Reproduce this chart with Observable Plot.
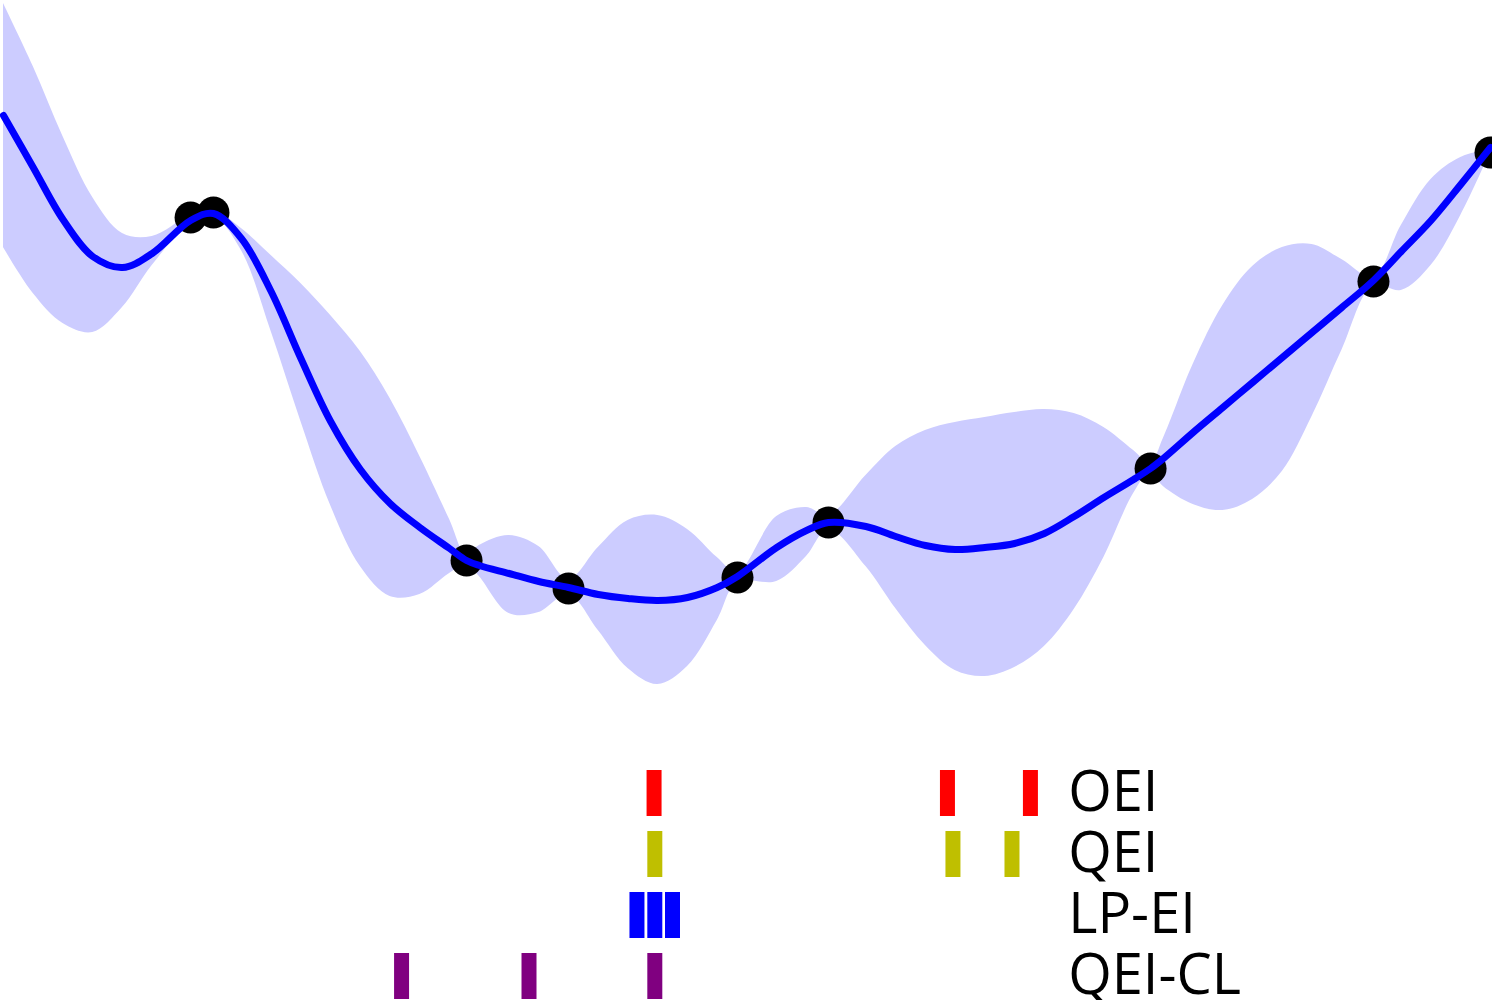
<!DOCTYPE html>
<html>
<head>
<meta charset="utf-8">
<script src="https://cdn.jsdelivr.net/npm/d3@7"></script>
<script src="https://cdn.jsdelivr.net/npm/@observablehq/plot@0.6"></script>
<style>
  html, body { margin: 0; padding: 0; background: white; }
  #chart { width: 1492px; }
</style>
</head>
<body>
<div id="chart"></div>
<script>
// ---- GP posterior (mean and band) sampled along x ----
const xs = [0, 0.2, 0.4, 0.6, 0.8, 1.0, 1.258, 1.412, 1.6, 1.8, 2.0, 2.2, 2.4, 2.6, 2.8, 3.0,
  3.114, 3.2, 3.4, 3.6, 3.8, 4.0, 4.2, 4.4, 4.6, 4.8, 4.936, 5.2, 5.4, 5.548, 5.8, 6.0,
  6.2, 6.4, 6.6, 6.8, 7.0, 7.2, 7.4, 7.6, 7.714, 7.8, 8.0, 8.2, 8.4, 8.6, 8.8, 9.0,
  9.213, 9.4, 9.6, 9.8, 10.0];
const upper = [6.97, 6.34, 5.64, 5.03, 4.67, 4.64, 4.85, 4.90, 4.72, 4.45, 4.17, 3.85, 3.49, 3.02, 2.44, 1.81,
  1.45, 1.55, 1.65, 1.54, 1.21, 1.53, 1.80, 1.85, 1.71, 1.43, 1.28, 1.84, 1.93, 1.85, 2.25, 2.54,
  2.70, 2.78, 2.83, 2.88, 2.91, 2.87, 2.73, 2.50, 2.37, 2.62, 3.36, 3.95, 4.34, 4.53, 4.56, 4.41,
  4.23, 4.75, 5.21, 5.43, 5.51];
const lower = [4.53, 4.07, 3.77, 3.68, 3.93, 4.35, 4.77, 4.84, 4.50, 3.69, 2.79, 1.95, 1.34, 1.04, 1.06, 1.27,
  1.36, 1.24, 0.87, 0.88, 1.06, 0.70, 0.32, 0.16, 0.34, 0.80, 1.18, 1.19, 1.44, 1.71, 1.34, 0.92,
  0.55, 0.30, 0.24, 0.33, 0.54, 0.91, 1.43, 2.07, 2.28, 2.14, 1.96, 1.90, 2.01, 2.29, 2.84, 3.50,
  4.15, 4.10, 4.35, 4.85, 5.48];
const mean = [5.85, 5.33, 4.81, 4.44, 4.33, 4.47, 4.80, 4.87, 4.62, 4.09, 3.42, 2.79, 2.31, 1.97, 1.73, 1.52,
  1.40, 1.35, 1.27, 1.19, 1.13, 1.06, 1.02, 1.00, 1.03, 1.13, 1.24, 1.53, 1.70, 1.78, 1.74, 1.64,
  1.55, 1.51, 1.53, 1.57, 1.67, 1.84, 2.03, 2.21, 2.32, 2.42, 2.68, 2.93, 3.18, 3.43, 3.68, 3.93,
  4.20, 4.49, 4.80, 5.16, 5.53];

// ---- observed points ----
const obsX = [1.258, 1.412, 3.114, 3.800, 4.936, 5.548, 7.714, 9.213, 10.0];
const obsY = [4.83, 4.88, 1.40, 1.12, 1.23, 1.78, 2.32, 4.19, 5.48];

// ---- proposed batches per method ----
const methods = ["OEI", "QEI", "LP-EI", "QEI-CL"];
const methodColors = ["#ff0000", "#bfbf00", "#0000ff", "#800080"];
const oeiX = [4.375, 6.348, 6.906];
const qeiX = [4.38, 6.385, 6.782];
const lpeiX = [4.26, 4.38, 4.499];
const qeiclX = [2.677, 3.534, 4.38];
const labelX = 7.16;

const curveRows = xs.map((x, i) => ({x, hi: upper[i], lo: lower[i], mean: mean[i]}));
const obsRows = obsX.map((x, i) => ({x, y: obsY[i]}));
const batchRows = [oeiX, qeiX, lpeiX, qeiclX].flatMap((arr, k) => arr.map(x => ({x, method: methods[k]})));

const W = 1492;
const xDomain = [0, 10];

const topPlot = Plot.plot({
  width: W, height: 745,
  marginLeft: 3, marginRight: 2, marginTop: 0, marginBottom: 0,
  x: {domain: xDomain, axis: null},
  y: {domain: [-0.45, 7], axis: null},
  marks: [
    Plot.areaY(curveRows, {x: "x", y1: "lo", y2: "hi", fill: "#ccccff", curve: "catmull-rom"}),
    Plot.dot(obsRows, {x: "x", y: "y", r: 16, fill: "black", stroke: "none"}),
    Plot.line(curveRows, {x: "x", y: "mean", stroke: "#0000ff", strokeWidth: 7, curve: "catmull-rom"})
  ]
});

const bottomPlot = Plot.plot({
  width: W, height: 255,
  marginLeft: 3, marginRight: 2, marginTop: 0, marginBottom: 0,
  x: {domain: xDomain, axis: null},
  y: {type: "band", domain: methods, range: [9, 269], padding: 15 / 61, axis: null},
  color: {domain: methods, range: methodColors},
  marks: [
    Plot.tickX(batchRows, {x: "x", y: "method", stroke: "method", strokeWidth: 15}),
    Plot.text(methods, {x: () => labelX, y: d => d, text: d => d, textAnchor: "start",
      fontSize: 56, fontFamily: "Open Sans", fill: "black"})
  ]
});

document.getElementById("chart").append(topPlot, bottomPlot);
</script>
</body>
</html>
